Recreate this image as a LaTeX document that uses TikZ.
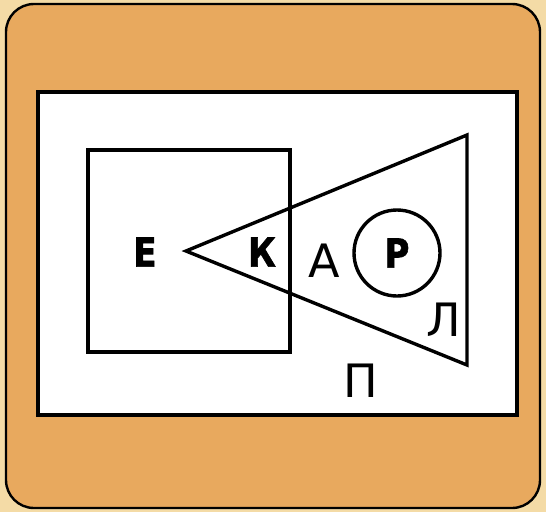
\documentclass[tikz,border=0pt]{standalone}
\usepackage{fontspec}
\setmainfont{DejaVu Sans}
\newfontfamily\heavyfont{DejaVu Sans}[BoldFeatures={FakeBold=1.6}]
\definecolor{pagebg}{HTML}{F4DBA6}
\definecolor{card}{HTML}{E8A95E}
\tikzset{
  thick line/.style={line width=3.4pt, draw=black},
  boldlabel/.style={font=\heavyfont\fontsize{40}{42}\selectfont\bfseries, inner sep=0pt, xscale=0.85},
  reglabel/.style={font=\fontsize{46}{50}\selectfont, inner sep=0pt},
}
\begin{document}
\begin{tikzpicture}[x=1pt,y=-1pt]
\useasboundingbox (0,0) rectangle (546,512);
\fill[pagebg] (0,0) rectangle (546,512);
\draw[fill=card, line width=2.4pt, rounded corners=28pt] (6,4) rectangle (540,508);
\draw[fill=white, line width=3.2pt] (38,92) rectangle (517,415);
% square
\draw[thick line] (88,150) rectangle (290,352);
% triangle
\coordinate (apex) at (186,251);
\coordinate (tr) at (467,135);
\coordinate (br) at (467,365);
\draw[thick line, line join=miter] (apex) -- (tr) -- (br) -- cycle;
% circle
\node[circle, thick line, minimum size=86pt, inner sep=0pt] (circ) at (397,253) {};
% labels
\node[boldlabel] (E) at (145,252) {Е};
\node[boldlabel] (K) at (262,252) {К};
\node[boldlabel] (R) at (397,253) {Р};
\node[reglabel] (A) at (324,261) {А};
\node[reglabel] (L) at (444,320) {Л};
\node[reglabel] (P) at (361,381) {П};
\end{tikzpicture}
\end{document}
